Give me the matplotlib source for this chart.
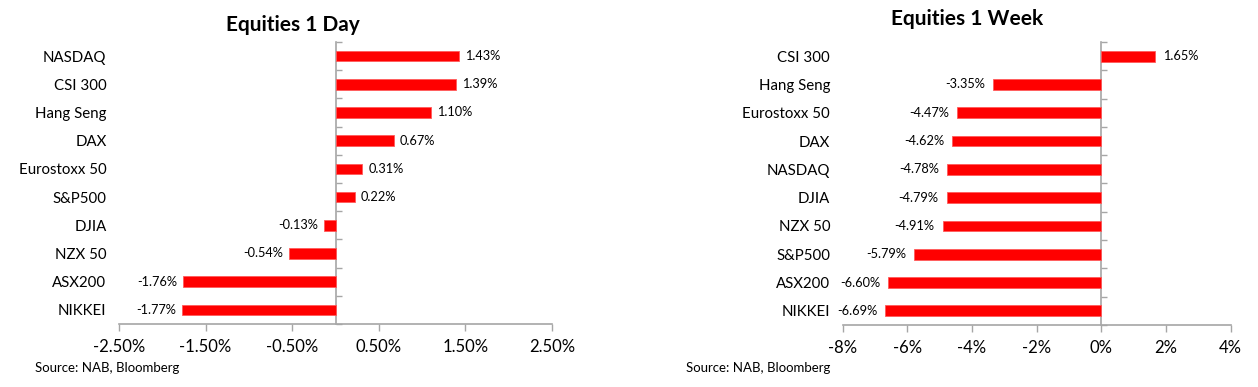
import matplotlib.pyplot as plt
from matplotlib.ticker import FixedLocator, FuncFormatter

plt.rcParams['font.family'] = ['Lato', 'DejaVu Sans']

# 1 day moves (top to bottom)
day_names = ['NASDAQ', 'CSI 300', 'Hang Seng', 'DAX', 'Eurostoxx 50',
             'S&P500', 'DJIA', 'NZX 50', 'ASX200', 'NIKKEI']
day_values = [1.43, 1.39, 1.10, 0.67, 0.31, 0.22, -0.13, -0.54, -1.76, -1.77]
day_ticks = [-2.5, -1.5, -0.5, 0.5, 1.5, 2.5]

# 1 week moves (top to bottom)
week_names = ['CSI 300', 'Hang Seng', 'Eurostoxx 50', 'DAX', 'NASDAQ',
              'DJIA', 'NZX 50', 'S&P500', 'ASX200', 'NIKKEI']
week_values = [1.65, -3.35, -4.47, -4.62, -4.78, -4.79, -4.91, -5.79, -6.60, -6.69]
week_ticks = [-8, -6, -4, -2, 0, 2, 4]

RED = '#ff0000'
GREY = '#a6a6a6'


def draw_panel(ax, names, values, ticks, tick_fmt, label_off):
    n = len(names)
    pos = list(range(n))
    ax.barh(pos, values, height=0.38, color=RED, edgecolor='#ff5a5a', linewidth=0.6, zorder=2)
    ax.set_ylim(n - 0.5, -0.5)
    ax.set_xlim(ticks[0], ticks[-1])

    # category labels sit at the left edge of the plot area
    ax.set_yticks(pos)
    ax.set_yticklabels(names, fontsize=10.8)
    ax.tick_params(axis='y', length=0, pad=9)

    ax.set_xticks(ticks)
    ax.xaxis.set_major_formatter(FuncFormatter(tick_fmt))
    ax.tick_params(axis='x', length=5, width=1, color=GREY, labelsize=12, pad=6)

    for s in ['top', 'right', 'left']:
        ax.spines[s].set_visible(False)
    ax.spines['bottom'].set_color(GREY)
    ax.spines['bottom'].set_linewidth(1.2)

    # value axis line at zero with category boundary ticks
    x0, x1 = ax.get_xlim()
    sec = ax.secondary_yaxis((0 - x0) / (x1 - x0))
    sec.yaxis.set_major_locator(FixedLocator([p - 0.5 for p in range(n + 1)]))
    sec.yaxis.set_major_formatter(FuncFormatter(lambda v, p: ''))
    sec.tick_params(length=4, width=1, color=GREY)
    for sp in sec.spines.values():
        sp.set_color(GREY)
        sp.set_linewidth(1.2)

    for p, v in zip(pos, values):
        if v >= 0:
            ax.text(v + label_off, p, f'{v:.2f}%', va='center', ha='left', fontsize=9.2)
        else:
            ax.text(v - label_off, p, f'{v:.2f}%', va='center', ha='right', fontsize=9.2)


fig = plt.figure(figsize=(12.58, 3.87), dpi=100)
ax1 = fig.add_axes([0.0946, 0.1628, 0.3442, 0.7287])
ax2 = fig.add_axes([0.6699, 0.1602, 0.3084, 0.7313])

draw_panel(ax1, day_names, day_values, day_ticks, lambda v, p: f'{v:.2f}%', 0.07)
draw_panel(ax2, week_names, week_values, week_ticks, lambda v, p: f'{v:.0f}%', 0.25)

fig.text(0.233, 0.935, 'Equities 1 Day', ha='center', va='center', fontsize=15, fontweight='bold')
fig.text(0.769, 0.950, 'Equities 1 Week', ha='center', va='center', fontsize=15, fontweight='bold')
fig.text(0.028, 0.05, 'Source: NAB, Bloomberg', ha='left', va='center', fontsize=9.5)
fig.text(0.545, 0.05, 'Source: NAB, Bloomberg', ha='left', va='center', fontsize=9.5)

fig.savefig('out.png', dpi=100, facecolor='white')
